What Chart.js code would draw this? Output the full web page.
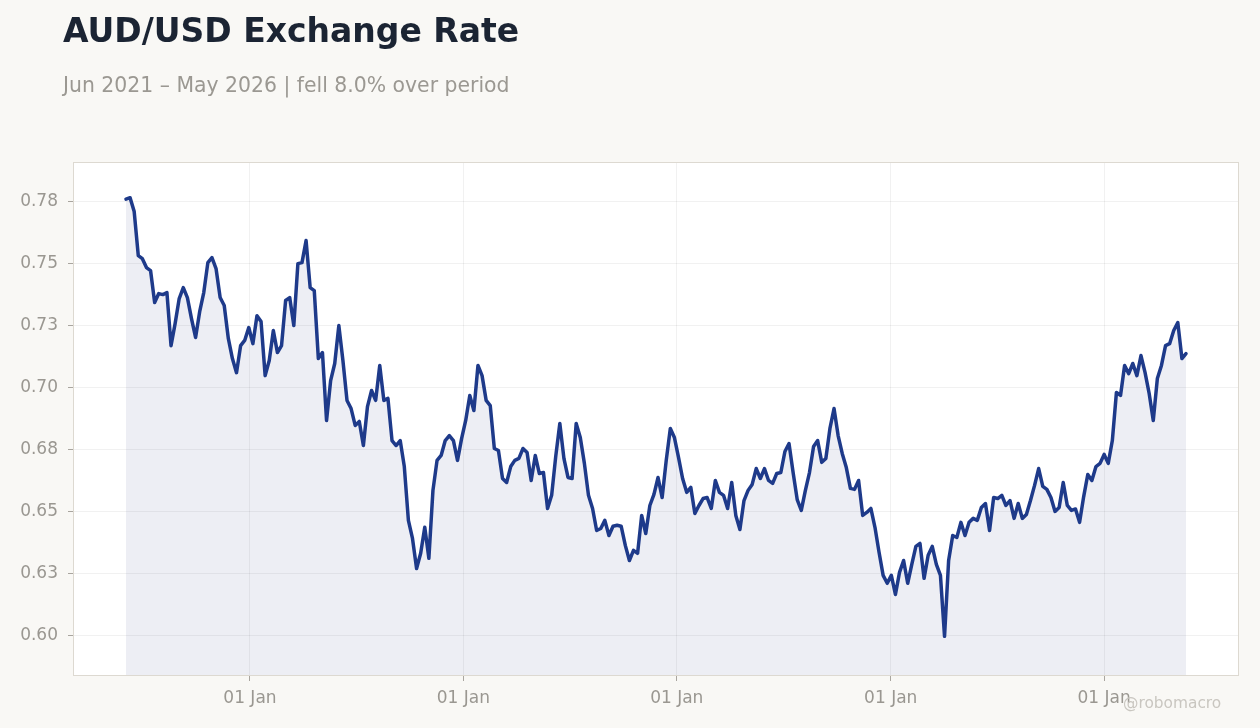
<!DOCTYPE html>
<html>
<head>
<meta charset="utf-8">
<script src="https://cdn.jsdelivr.net/npm/chart.js@4.4.1/dist/chart.umd.min.js"></script>
<style>
  html, body { margin: 0; padding: 0; background: #f9f8f5; overflow: hidden; }
  #wrap { position: relative; width: 1260px; height: 728px; font-family: "DejaVu Sans", sans-serif; }
  #chartBox { position: absolute; left: 0; top: 0; width: 1260px; height: 728px; }
  .title { position: absolute; left: 63px; top: 14px; font-size: 33px; line-height: 1; font-weight: bold; color: #1b2433; white-space: nowrap; z-index: 2; }
  .sub { position: absolute; left: 63px; top: 75px; font-size: 20.4px; line-height: 1; color: #9b9892; white-space: nowrap; z-index: 2; }
  .wm { position: absolute; left: 1123px; top: 696px; font-size: 15.4px; line-height: 1; color: #c9c6c0; white-space: nowrap; z-index: 2; }
</style>
</head>
<body>
<div id="wrap">
  <div class="title">AUD/USD Exchange Rate</div>
  <div class="sub">Jun 2021 – May 2026 | fell 8.0% over period</div>
  <div id="chartBox"><canvas id="c"></canvas></div>
  <div class="wm">@robomacro</div>
</div>
<script>
// Weekly AUD/USD closes (first week: Thu 3 Jun 2021)
const rate = [
  0.7760, 0.7766, 0.7710, 0.7532, 0.7520, 0.7484, 0.7472, 0.7343, 0.7379, 0.7375,
  0.7383, 0.7169, 0.7258, 0.7359, 0.7403, 0.7363, 0.7278, 0.7202, 0.7306, 0.7383,
  0.7504, 0.7524, 0.7480, 0.7363, 0.7331, 0.7198, 0.7117, 0.7060, 0.7169, 0.7190,
  0.7242, 0.7177, 0.7290, 0.7266, 0.7048, 0.7109, 0.7230, 0.7141, 0.7169, 0.7351,
  0.7363, 0.7250, 0.7500, 0.7504, 0.7593, 0.7403, 0.7391, 0.7117, 0.7141, 0.6867,
  0.7028, 0.7097, 0.7250, 0.7109, 0.6948, 0.6915, 0.6847, 0.6863, 0.6766, 0.6923,
  0.6988, 0.6948, 0.7089, 0.6948, 0.6956, 0.6786, 0.6766, 0.6786, 0.6681, 0.6464,
  0.6391, 0.6270, 0.6331, 0.6436, 0.6311, 0.6585, 0.6706, 0.6726, 0.6786, 0.6806,
  0.6786, 0.6706, 0.6794, 0.6867, 0.6968, 0.6907, 0.7089, 0.7048, 0.6948, 0.6927,
  0.6754, 0.6746, 0.6633, 0.6617, 0.6681, 0.6706, 0.6714, 0.6754, 0.6738, 0.6625,
  0.6726, 0.6653, 0.6657, 0.6512, 0.6565, 0.6722, 0.6855, 0.6714, 0.6637, 0.6633,
  0.6855, 0.6798, 0.6694, 0.6565, 0.6512, 0.6423, 0.6431, 0.6464, 0.6403, 0.6440,
  0.6444, 0.6440, 0.6363, 0.6302, 0.6343, 0.6331, 0.6484, 0.6411, 0.6524, 0.6569,
  0.6637, 0.6556, 0.6706, 0.6835, 0.6798, 0.6718, 0.6633, 0.6577, 0.6597, 0.6492,
  0.6524, 0.6552, 0.6556, 0.6512, 0.6625, 0.6577, 0.6565, 0.6512, 0.6617, 0.6484,
  0.6427, 0.6544, 0.6585, 0.6609, 0.6673, 0.6633, 0.6673, 0.6625, 0.6613, 0.6653,
  0.6657, 0.6742, 0.6774, 0.6657, 0.6548, 0.6504, 0.6585, 0.6657, 0.6762, 0.6786,
  0.6698, 0.6714, 0.6835, 0.6915, 0.6806, 0.6734, 0.6677, 0.6593, 0.6589, 0.6625,
  0.6484, 0.6496, 0.6512, 0.6436, 0.6335, 0.6242, 0.6210, 0.6242, 0.6165, 0.6254,
  0.6302, 0.6210, 0.6286, 0.6359, 0.6371, 0.6230, 0.6323, 0.6359, 0.6286, 0.6242,
  0.5996, 0.6302, 0.6403, 0.6395, 0.6456, 0.6403, 0.6456, 0.6472, 0.6464, 0.6516,
  0.6532, 0.6423, 0.6556, 0.6552, 0.6565, 0.6524, 0.6544, 0.6472, 0.6532, 0.6472,
  0.6488, 0.6544, 0.6605, 0.6673, 0.6601, 0.6589, 0.6556, 0.6500, 0.6516, 0.6617,
  0.6524, 0.6504, 0.6510, 0.6456, 0.6560, 0.6649, 0.6625, 0.6681, 0.6694, 0.6730,
  0.6694, 0.6786, 0.6980, 0.6968, 0.7089, 0.7056, 0.7097, 0.7048, 0.7129, 0.7060,
  0.6976, 0.6867, 0.7036, 0.7089, 0.7169, 0.7177, 0.7230, 0.7262, 0.7117, 0.7137
];

// Category axis: one date per weekly observation
const firstWeek = Date.UTC(2021, 5, 3);
const weekMs = 7 * 86400000;
const weekDates = rate.map((_, i) => firstWeek + i * weekMs);

// Tick labels
const xTickDates = ['2022-01-01', '2023-01-01', '2024-01-01', '2025-01-01', '2026-01-01'];
const xTickLabels = ['01 Jan', '01 Jan', '01 Jan', '01 Jan', '01 Jan'];
const yTickValues = [0.600, 0.625, 0.650, 0.675, 0.700, 0.725, 0.750, 0.775];
const yTickLabels = ['0.60', '0.63', '0.65', '0.68', '0.70', '0.73', '0.75', '0.78'];
const yMin = 0.584, yMax = 0.791;

const span = weekDates[weekDates.length - 1] - weekDates[0];
const xMin = weekDates[0] - 0.05 * span;
const xMax = weekDates[weekDates.length - 1] + 0.05 * span;

Chart.defaults.font.family = '"DejaVu Sans", sans-serif';

const panelPlugin = {
  id: 'panel',
  beforeDraw(chart) {
    const { ctx, chartArea: a } = chart;
    ctx.save();
    ctx.fillStyle = '#ffffff';
    ctx.fillRect(a.left, a.top, a.right - a.left, a.bottom - a.top);
    ctx.restore();
  },
  afterDraw(chart) {
    const { ctx, chartArea: a } = chart;
    ctx.save();
    ctx.strokeStyle = '#ddd9d1';
    ctx.lineWidth = 1;
    ctx.strokeRect(Math.round(a.left) + 0.5, Math.round(a.top) + 0.5, Math.round(a.right - a.left) - 1, Math.round(a.bottom - a.top));
    ctx.restore();
  }
};

new Chart(document.getElementById('c'), {
  type: 'line',
  data: {
    datasets: [{
      data: weekDates.map((d, i) => ({ x: d, y: rate[i] })),
      borderColor: '#1e3a8a',
      borderWidth: 3.5,
      backgroundColor: 'rgba(30,43,118,0.08)',
      fill: 'start',
      pointRadius: 0,
      tension: 0,
      borderJoinStyle: 'round',
      borderCapStyle: 'round'
    }]
  },
  options: {
    responsive: true,
    maintainAspectRatio: false,
    animation: false,
    layout: { padding: { top: 162, right: 21, bottom: 0, left: 0 } },
    plugins: { legend: { display: false }, tooltip: { enabled: false } },
    scales: {
      x: {
        type: 'linear',
        min: xMin,
        max: xMax,
        afterFit(scale) { scale.height = 53; },
        afterBuildTicks(scale) { scale.ticks = xTickDates.map(d => ({ value: Date.parse(d) })); },
        border: { display: false },
        grid: { color: 'rgba(0,0,0,0.055)', tickColor: '#a9a59f', tickLength: 6, drawTicks: true },
        ticks: {
          color: '#9a9791',
          font: { size: 17 },
          padding: 7,
          maxRotation: 0,
          autoSkip: false,
          callback: (v, i) => xTickLabels[i]
        }
      },
      y: {
        min: yMin,
        max: yMax,
        afterFit(scale) { scale.width = 73; },
        afterBuildTicks(scale) { scale.ticks = yTickValues.map(v => ({ value: v })); },
        border: { display: false },
        grid: { color: 'rgba(0,0,0,0.055)', tickColor: '#a9a59f', tickLength: 5, drawTicks: true },
        ticks: {
          color: '#9a9791',
          font: { size: 17 },
          padding: 10,
          autoSkip: false,
          callback: (v, i) => yTickLabels[i]
        }
      }
    }
  },
  plugins: [panelPlugin]
});
</script>
</body>
</html>
